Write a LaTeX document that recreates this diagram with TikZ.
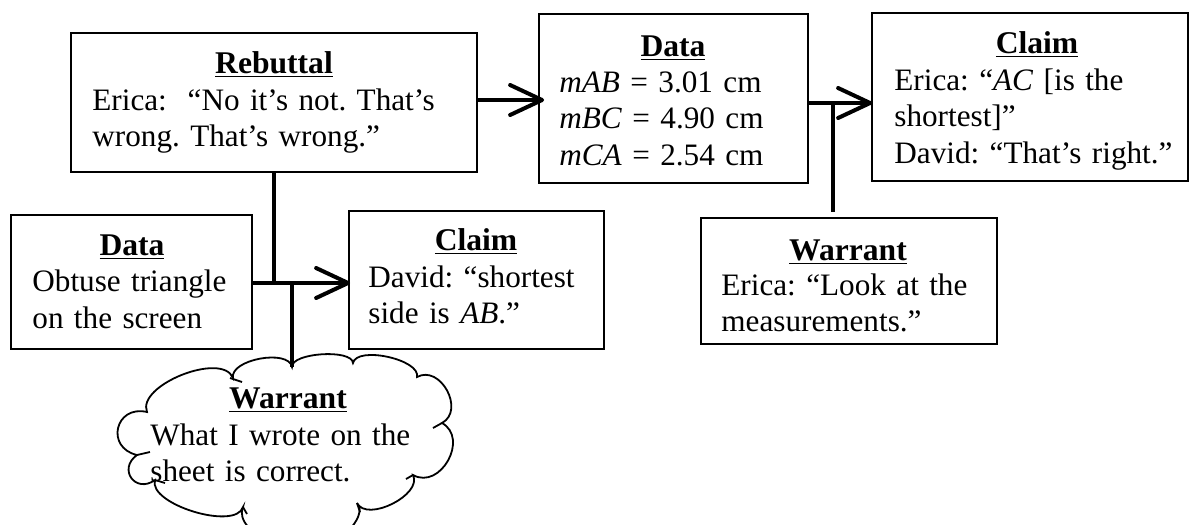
\documentclass[tikz,border=0pt]{standalone}
\usepackage{fontspec}
\setmainfont{Liberation Serif}[WordSpace=0.85]
\usetikzlibrary{arrows.meta,calc}
\begin{document}
\frenchspacing
\begin{tikzpicture}[x=0.5pt,y=-0.5pt,
  font=\fontsize{15.6}{18.3}\selectfont,
  box/.style={draw, line width=0.9pt, inner sep=0pt},
  hd/.style={anchor=base, inner sep=0pt, font=\fontsize{15.8}{18.3}\selectfont\bfseries},
  bd/.style={anchor=base west, inner sep=0pt, align=left, text width=200pt},
  conn/.style={line width=2pt},
  arr/.style={conn, -{Straight Barb[length=16pt, width=15pt, round]}},
  cloudline/.style={line width=0.9pt},
  puff/.style={bend left=90, looseness=#1}]
\useasboundingbox (0,0) rectangle (1190,525);

% Rebuttal
\node[box, minimum width=203pt, minimum height=69.5pt] (reb) at (274,102.5) {};
\node[hd] (rebh) at (274,73) {\underline{Rebuttal}};
\node[bd] (rebb) at (92,110) {Erica:\ \ “No it’s not. That’s\\wrong. That’s wrong.”};

% Data (top)
\node[box, minimum width=134.5pt, minimum height=84.5pt] (dat1) at (673.5,98.5) {};
\node[hd] (dat1h) at (673,56) {\underline{Data}};
\node[bd] (dat1b) at (559,92) {\textit{mAB} = 3.01 cm\\\textit{mBC} = 4.90 cm\\\textit{mCA} = 2.54 cm};

% Claim (top)
\node[box, minimum width=158pt, minimum height=84pt] (cla1) at (1030,97) {};
\node[hd] (cla1h) at (1037,53) {\underline{Claim}};
\node[bd] (cla1b) at (894,90) {Erica: “\textit{AC} [is the\\shortest]”\\David: “That’s right.”};

% Data (left)
\node[box, minimum width=120.5pt, minimum height=67pt] (dat2) at (131.5,282) {};
\node[hd] (dat2h) at (132,255) {\underline{Data}};
\node[bd] (dat2b) at (32,291.5) {Obtuse triangle\\on the screen};

% Claim (middle)
\node[box, minimum width=127.5pt, minimum height=69pt] (cla2) at (476.5,280) {};
\node[hd] (cla2h) at (476,250) {\underline{Claim}};
\node[bd] (cla2b) at (368,287) {David: “shortest\\side is \textit{AB}.”};

% Warrant (right)
\node[box, minimum width=148pt, minimum height=63pt] (war2) at (849,281) {};
\node[hd] (war2h) at (848,260) {\underline{Warrant}};
\node[bd] (war2b) at (721,295) {Erica: “Look at the\\measurements.”};

% Cloud warrant
\draw[cloudline] (137,455) to[puff=1.9] (147,412) to[puff=0.8] (233,378)
  to[puff=0.8] (292,367) to[puff=0.6] (353,363) to[puff=0.7] (417,377)
  to[puff=1.3] (442,423) to[puff=1.35] (413,475) to[puff=0.9] (357,503)
  to[puff=0.9] (318,540) to[puff=0.9] (243,507) to[puff=0.7] (155,480)
  to[puff=2] cycle;
\draw[cloudline] (137,455) -- (150,452);
\draw[cloudline] (230,378) -- (242,382);
\draw[cloudline] (442,423) -- (433,428);
\draw[cloudline] (413,475) -- (406,479);
\draw[cloudline] (357,503) -- (360,512);
\draw[cloudline] (243,507) -- (247,514);
\draw[cloudline] (155,480) -- (165,483);
\node[hd] (cloudh) at (288,408) {\underline{Warrant}};
\node[bd] (cloudb) at (150,445) {What I wrote on the\\sheet is correct.};

% junctions
\coordinate (r1) at (510,100);
\coordinate (j1) at (833,103);
\coordinate (j2) at (274,283);
\coordinate (j3) at (292,283);
\coordinate (ctop) at (292,367);

% connectors
\draw[arr, shorten >=-3pt] (reb.east |- r1) -- (dat1.west |- r1);
\draw[arr, shorten >=-0.5pt] (dat1.east |- j1) -- (cla1.west |- j1);
\draw[conn] (j1) -- ($(war2.north -| j1)+(0,-5)$);
\draw[arr, shorten >=-1pt] (dat2.east |- j2) -- (cla2.west |- j2);
\draw[conn] (reb.south) -- (j2);
\draw[conn] (j3) -- (ctop);
\end{tikzpicture}
\end{document}
